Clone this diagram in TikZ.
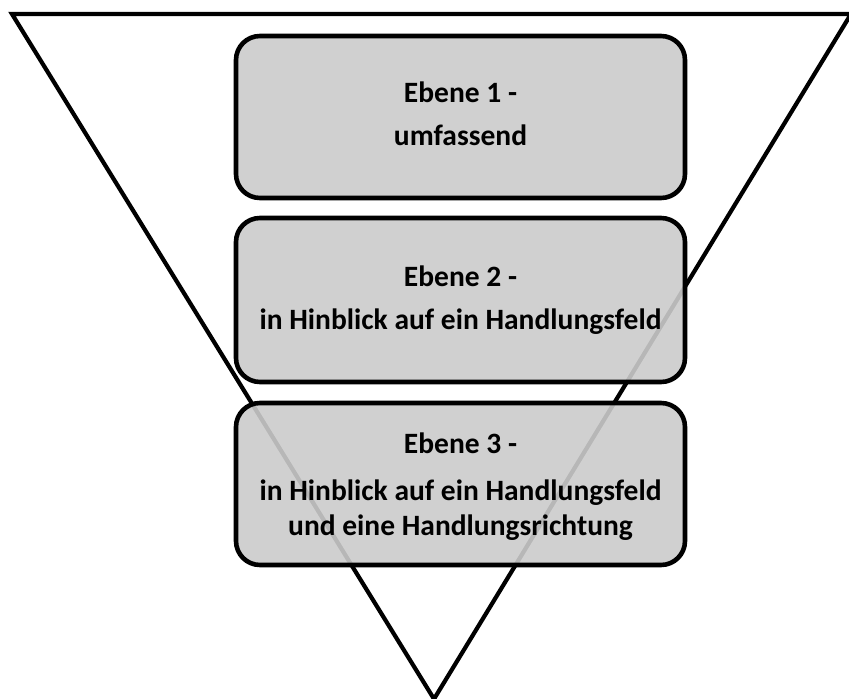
\documentclass[tikz,border=0pt]{standalone}
\usepackage{fontspec}
\setmainfont{Carlito}
\definecolor{boxgray}{gray}{0.796}
\begin{document}
\begin{tikzpicture}[x=1pt,y=-1pt,
  tri/.style={draw=black,line width=4.2pt,line join=miter},
  levelbox/.style={draw=black,line width=4.6pt,fill=boxgray,fill opacity=0.9,
    rounded corners=24pt,minimum width=449pt,inner sep=0pt,rectangle},
  lbl/.style={anchor=base,font=\bfseries\fontsize{29.5}{35}\selectfont,inner sep=0pt}]
\useasboundingbox (0,0) rectangle (849,699);
\coordinate (tl) at (12,14);
\coordinate (tr) at (851,14);
\coordinate (ap) at (434,699);
\draw[tri] (tl) -- (tr) -- (ap) -- cycle;
\node[levelbox,minimum height=162pt] (b1) at (460.5,117) {};
\node[levelbox,minimum height=164pt] (b2) at (460.5,300) {};
\node[levelbox,minimum height=162pt] (b3) at (460.5,484) {};
\node[lbl] (t1a) at (460.5,102) {Ebene 1 -};
\node[lbl] (t1b) at (460.5,145) {umfassend};
\node[lbl] (t2a) at (460.5,286) {Ebene 2 -};
\node[lbl] (t2b) at (460.5,329) {in Hinblick auf ein Handlungsfeld};
\node[lbl] (t3a) at (460.5,453) {Ebene 3 -};
\node[lbl] (t3b) at (460.5,500) {in Hinblick auf ein Handlungsfeld};
\node[lbl] (t3c) at (460.5,535) {und eine Handlungsrichtung};
\end{tikzpicture}
\end{document}
